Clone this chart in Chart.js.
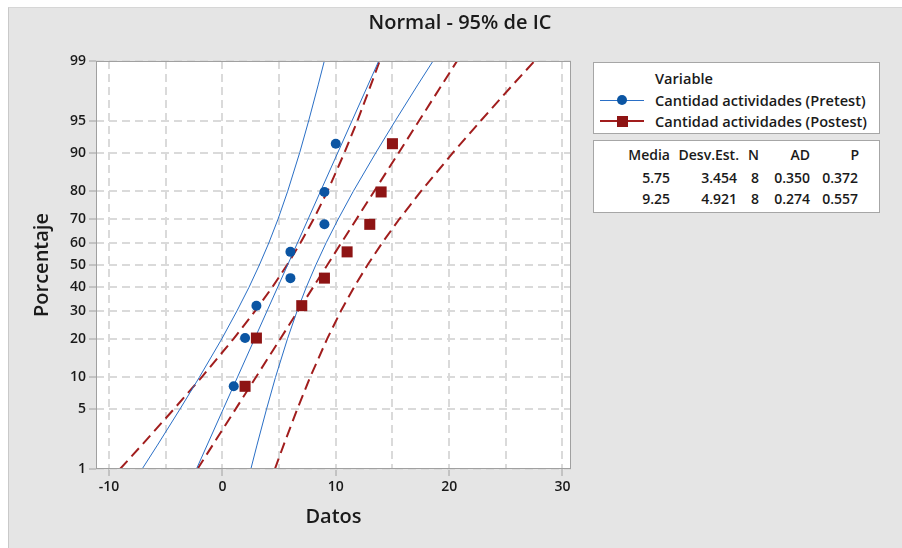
<!DOCTYPE html>
<html>
<head>
<meta charset="utf-8">
<script src="https://cdn.jsdelivr.net/npm/chart.js@4/dist/chart.umd.min.js"></script>
<style>
  html, body { margin: 0; padding: 0; background: #ffffff; }
  #wrap { position: relative; width: 902px; height: 548px; overflow: hidden; font-family: 'Open Sans', 'Noto Sans', sans-serif; color: #1a1a1a; }
  #bg { position: absolute; left: 8px; top: 7px; width: 894px; height: 541px; background: #e5e5e5; border-left: 1px solid #c9c9c9; border-top: 1px solid #d6d6d6; box-sizing: border-box; }
  #c { position: absolute; left: 0; top: 0; }
  .box { position: absolute; background: #ffffff; border: 1px solid #a6a6a6; box-sizing: border-box; font-size: 14px; font-weight: 600; }
  #legend { font-size: 14.6px; }
  .box span { position: absolute; line-height: 20px; white-space: nowrap; }
  .sym { position: absolute; }
</style>
</head>
<body>
<div id="wrap">
  <div id="bg"></div>
  <canvas id="c" width="902" height="548"></canvas>
  <div id="legend" class="box" style="left:593px;top:62px;width:287px;height:72px;"></div>
  <div id="stats" class="box" style="left:593px;top:140px;width:287px;height:73px;"></div>
</div>
<script>
// ---------- data ----------
const titleText = 'Normal - 95% de IC';
const xTitle = 'Datos';
const yTitle = 'Porcentaje';
const seriesNames = ['Cantidad actividades (Pretest)', 'Cantidad actividades (Postest)'];
const legendTitle = 'Variable';

// observations and their plotted percentages
const pretestValues = [1, 2, 3, 6, 6, 9, 9, 10];
const postestValues = [2, 3, 7, 9, 11, 13, 14, 15];
const plotPercents  = [8.33, 20.24, 32.14, 44.05, 55.95, 67.86, 79.76, 91.67];

// fitted lines (x at 1% and at 99%)
const fitPercents   = [1, 99];
const pretestFit    = [-2.29, 13.79];
const postestFit    = [-2.20, 20.70];

// confidence bands (x at each percent level)
const bandPercents  = [1, 2, 5, 10, 20, 30, 40, 50, 60, 70, 80, 90, 95, 98, 99];
const pretestLower  = [-7.08, -5.73, -3.75, -2.04, -0.05, 1.28, 2.35, 3.26, 4.10, 4.91, 5.76, 6.82, 7.61, 8.45, 8.99];
const pretestUpper  = [2.51, 3.05, 3.89, 4.68, 5.74, 6.59, 7.40, 8.24, 9.15, 10.22, 11.55, 13.54, 15.25, 17.23, 18.58];
const postestLower  = [-9.03, -7.11, -4.29, -1.84, 0.98, 2.89, 4.40, 5.70, 6.89, 8.05, 9.27, 10.77, 11.91, 13.10, 13.87];
const postestUpper  = [4.63, 5.40, 6.60, 7.73, 9.24, 10.45, 11.61, 12.80, 14.10, 15.61, 17.52, 20.34, 22.79, 25.61, 27.53];

// axis ticks
const yTickValues = [1, 5, 10, 20, 30, 40, 50, 60, 70, 80, 90, 95, 99];
const xGridValues = [-10, -5, 0, 5, 10, 15, 20, 25, 30];
const xLabelValues = [-10, 0, 10, 20, 30];

// statistics table
const statHeaders = ['Media', 'Desv.Est.', 'N', 'AD', 'P'];
const pretestStats = ['5.75', '3.454', '8', '0.350', '0.372'];
const postestStats = ['9.25', '4.921', '8', '0.274', '0.557'];

// ---------- colours ----------
const blueMark = '#0b55a3';
const blueLine = '#2a6fc6';
const redMark  = '#8e1414';
const redLine  = '#a11d1d';

// ---------- normal probability scale ----------
function probit(p) {
  const a=[-3.969683028665376e+01,2.209460984245205e+02,-2.759285104469687e+02,1.383577518672690e+02,-3.066479806614716e+01,2.506628277459239e+00];
  const b=[-5.447609879822406e+01,1.615858368580409e+02,-1.556989798598866e+02,6.680131188771972e+01,-1.328068155288572e+01];
  const c=[-7.784894002430293e-03,-3.223964580411365e-01,-2.400758277161838e+00,-2.549732539343734e+00,4.374664141464968e+00,2.938163982698783e+00];
  const d=[7.784695709041462e-03,3.224671290700398e-01,2.445134137142996e+00,3.754408661907416e+00];
  const pl = 0.02425, ph = 1 - pl;
  let q, r;
  if (p < pl) { q = Math.sqrt(-2*Math.log(p)); return (((((c[0]*q+c[1])*q+c[2])*q+c[3])*q+c[4])*q+c[5])/((((d[0]*q+d[1])*q+d[2])*q+d[3])*q+1); }
  if (p <= ph) { q = p - 0.5; r = q*q; return (((((a[0]*r+a[1])*r+a[2])*r+a[3])*r+a[4])*r+a[5])*q/(((((b[0]*r+b[1])*r+b[2])*r+b[3])*r+b[4])*r+1); }
  q = Math.sqrt(-2*Math.log(1-p)); return -(((((c[0]*q+c[1])*q+c[2])*q+c[3])*q+c[4])*q+c[5])/((((d[0]*q+d[1])*q+d[2])*q+d[3])*q+1);
}
function normcdf(z) {
  const t = 1/(1+0.2316419*Math.abs(z));
  const y = 0.3989423*Math.exp(-z*z/2)*t*(0.3193815+t*(-0.3565638+t*(1.781478+t*(-1.821256+t*1.330274))));
  return z > 0 ? 1 - y : y;
}
class ProbitScale extends Chart.Scale {
  determineDataLimits() {
    this.min = (this.options.min !== undefined) ? this.options.min : 1;
    this.max = (this.options.max !== undefined) ? this.options.max : 99;
  }
  buildTicks() { return yTickValues.map(v => ({ value: v })); }
  configure() {
    super.configure();
    this._zMin = probit(this.min / 100);
    this._zMax = probit(this.max / 100);
  }
  getPixelForValue(v) {
    return this.getPixelForDecimal((probit(v / 100) - this._zMin) / (this._zMax - this._zMin));
  }
  getValueForPixel(px) {
    const z = this._zMin + this.getDecimalForPixel(px) * (this._zMax - this._zMin);
    return 100 * normcdf(z);
  }
  getLabelForValue(v) { return String(v); }
}
ProbitScale.id = 'probit';
ProbitScale.defaults = {};
Chart.register(ProbitScale);

// ---------- helpers ----------
const pts = (xs, ys) => xs.map((x, i) => ({ x: x, y: ys[i] }));

const plotFrame = {
  id: 'plotFrame',
  beforeDraw(chart) {
    const { ctx, chartArea: a } = chart;
    ctx.save();
    ctx.fillStyle = '#ffffff';
    ctx.fillRect(a.left, a.top, a.right - a.left, a.bottom - a.top);
    ctx.restore();
  },
  afterDatasetsDraw(chart) {
    const { ctx, chartArea: a } = chart;
    ctx.save();
    ctx.strokeStyle = '#a0a0a0';
    ctx.lineWidth = 1;
    ctx.strokeRect(Math.round(a.left) + 0.5, Math.round(a.top) + 0.5, Math.round(a.right - a.left) - 1, Math.round(a.bottom - a.top) - 1);
    ctx.restore();
  }
};

const tickFont = { family: "'Open Sans', 'Noto Sans', sans-serif", size: 14, weight: '600' };
const titleFont = { family: "'Open Sans', 'Noto Sans', sans-serif", size: 20, weight: '600' };

const chart = new Chart(document.getElementById('c'), {
  type: 'scatter',
  data: {
    datasets: [
      { label: seriesNames[0], data: pts(pretestValues, plotPercents), pointStyle: 'circle', pointRadius: 5, backgroundColor: blueMark, borderColor: blueMark, borderWidth: 0, showLine: false },
      { label: seriesNames[1], data: pts(postestValues, plotPercents), pointStyle: 'rect', pointRadius: 7.8, backgroundColor: redMark, borderColor: redMark, borderWidth: 0, showLine: false },
      { label: 'fitPre', data: pts(pretestFit, fitPercents), showLine: true, pointRadius: 0, borderColor: blueLine, borderWidth: 1 },
      { label: 'lowPre', data: pts(pretestLower, bandPercents), showLine: true, pointRadius: 0, borderColor: blueLine, borderWidth: 1 },
      { label: 'upPre', data: pts(pretestUpper, bandPercents), showLine: true, pointRadius: 0, borderColor: blueLine, borderWidth: 1 },
      { label: 'fitPost', data: pts(postestFit, fitPercents), showLine: true, pointRadius: 0, borderColor: redLine, borderWidth: 2, borderDash: [11, 6] },
      { label: 'lowPost', data: pts(postestLower, bandPercents), showLine: true, pointRadius: 0, borderColor: redLine, borderWidth: 2, borderDash: [11, 6] },
      { label: 'upPost', data: pts(postestUpper, bandPercents), showLine: true, pointRadius: 0, borderColor: redLine, borderWidth: 2, borderDash: [11, 6] }
    ]
  },
  options: {
    responsive: false,
    animation: false,
    events: [],
    layout: { padding: { left: 18, right: 0, top: 0, bottom: 0 } },
    plugins: {
      legend: { display: false },
      tooltip: { enabled: false },
      title: { display: true, text: titleText, color: '#1a1a1a', font: titleFont, padding: { top: 11, bottom: 26 } }
    },
    scales: {
      x: {
        type: 'linear', position: 'bottom', min: -11.15, max: 30.75,
        afterBuildTicks: s => { s.ticks = xGridValues.map(v => ({ value: v })); },
        afterFit: s => { s.height = 79; },
        ticks: { font: tickFont, color: '#1a1a1a', padding: 3, maxRotation: 0, autoSkip: false,
          callback: v => (xLabelValues.indexOf(v) >= 0 ? String(v) : '') },
        grid: { color: '#dadada', lineWidth: 2, tickLength: 7, tickWidth: 1,
          tickColor: ctx => (ctx.tick && xLabelValues.indexOf(ctx.tick.value) >= 0 ? '#a0a0a0' : 'rgba(0,0,0,0)') },
        border: { display: false, dash: [8, 5] },
        title: { display: true, text: xTitle, color: '#1a1a1a', font: titleFont, padding: { top: 0, bottom: 19 } }
      },
      y: {
        type: 'probit', position: 'left', min: 1, max: 99,
        afterFit: s => { s.width = 78; },
        ticks: { font: tickFont, color: '#1a1a1a', padding: 3, autoSkip: false },
        grid: { color: '#dadada', lineWidth: 2, tickLength: 7, tickWidth: 1, tickColor: '#a0a0a0' },
        border: { display: false, dash: [8, 5] },
        title: { display: true, text: yTitle, color: '#1a1a1a', font: titleFont, padding: { top: 12, bottom: 0 } }
      },
      side: {
        type: 'linear', position: 'right', display: true,
        afterFit: s => { s.width = 331; },
        ticks: { display: false },
        grid: { display: false },
        border: { display: false }
      }
    }
  },
  plugins: [plotFrame]
});

// ---------- legend and statistics boxes ----------
function addText(box, text, opts) {
  const s = document.createElement('span');
  s.textContent = text;
  s.style.top = (opts.cy - 10) + 'px';
  if (opts.left !== undefined) s.style.left = opts.left + 'px';
  if (opts.right !== undefined) s.style.right = opts.right + 'px';
  box.appendChild(s);
}
const legendBox = document.getElementById('legend');
// coordinates inside box (box left = 593, top = 62, border 1px)
addText(legendBox, legendTitle, { left: 61, cy: 15 });
const legendRows = [
  { name: chart.data.datasets[0].label, cy: 37, color: blueLine, mark: blueMark, shape: 'circle', lw: 1 },
  { name: chart.data.datasets[1].label, cy: 58, color: redLine, mark: redMark, shape: 'rect', lw: 2 }
];
legendRows.forEach(r => {
  const line = document.createElement('div');
  line.className = 'sym';
  line.style.cssText = `left:6px;width:44px;top:${r.cy - r.lw / 2}px;height:${r.lw}px;background:${r.color};`;
  legendBox.appendChild(line);
  const m = document.createElement('div');
  m.className = 'sym';
  const sz = r.shape === 'circle' ? 10 : 11;
  m.style.cssText = `left:${28 - sz / 2}px;top:${r.cy - sz / 2}px;width:${sz}px;height:${sz}px;background:${r.mark};` + (r.shape === 'circle' ? 'border-radius:50%;' : '');
  legendBox.appendChild(m);
  addText(legendBox, r.name, { left: 61, cy: r.cy });
});

const statsBox = document.getElementById('stats');
// right edges of the columns inside the box (box width 287, border 1)
const colRight = [209, 140, 120, 69, 20];
statHeaders.forEach((h, i) => addText(statsBox, h, { right: colRight[i], cy: 14 }));
[pretestStats, postestStats].forEach((row, r) => {
  row.forEach((v, i) => addText(statsBox, v, { right: colRight[i] + (i === 1 ? 2 : 0) + (i === 4 ? 1 : 0), cy: 37 + r * 21 }));
});
</script>
</body>
</html>
